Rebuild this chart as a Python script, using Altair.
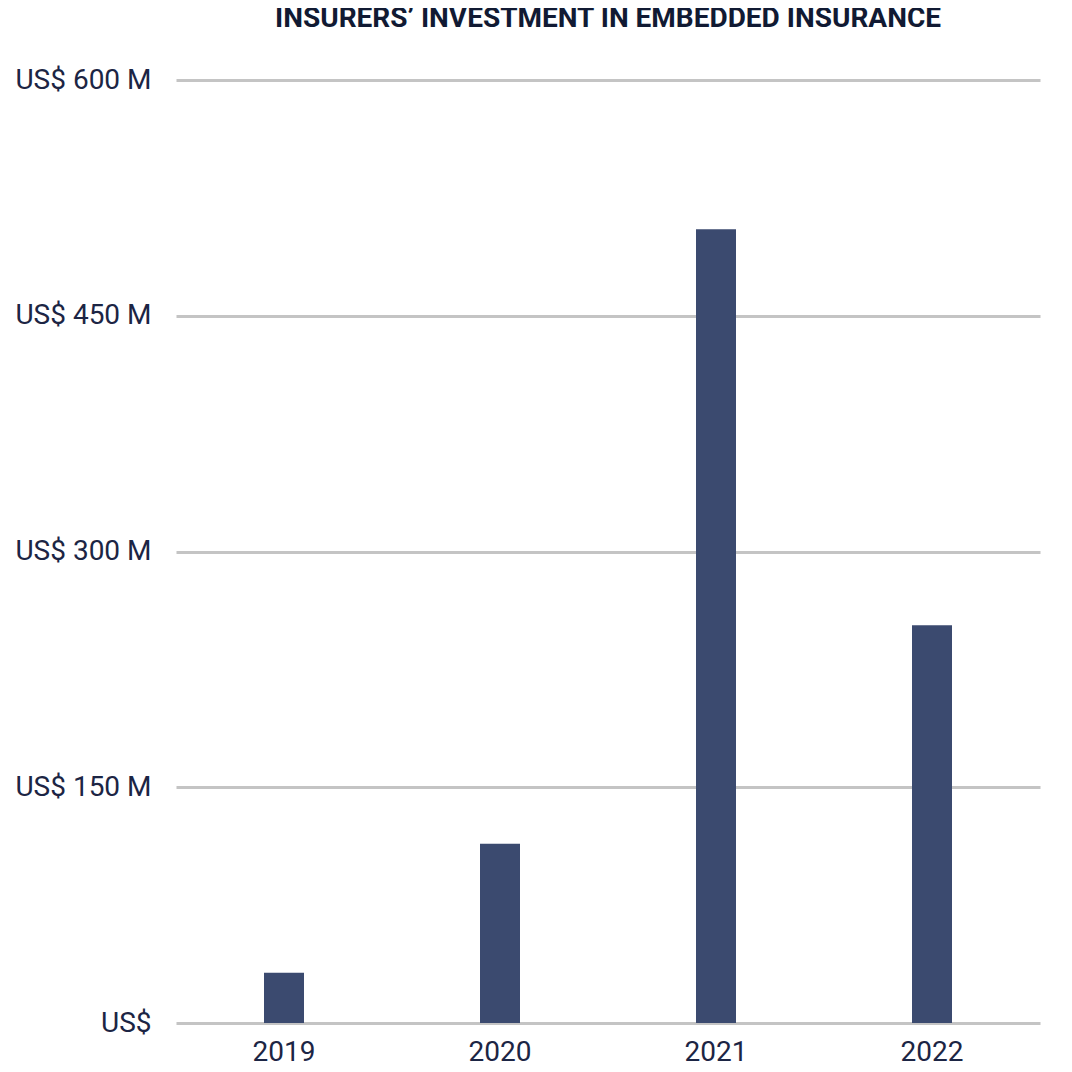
import altair as alt
import pandas as pd

years = ["2019", "2020", "2021", "2022"]
values = [32, 114, 505, 253]
tick_values = [0, 150, 300, 450, 600]

df = pd.DataFrame({"year": years, "value": values})

label_expr = "datum.value == 0 ? 'US$' : 'US$ ' + datum.value + ' M'"

chart = alt.Chart(df).mark_bar(size=40, color="#3b4a6f").encode(
    x=alt.X("year:N", sort=years, title=None,
            scale=alt.Scale(paddingInner=0, paddingOuter=0),
            axis=alt.Axis(labelAngle=0, domain=False, ticks=False, labelPadding=15,
                          labelFont="Roboto", labelFontSize=28, labelColor="#1c2544")),
    y=alt.Y("value:Q", title=None,
            scale=alt.Scale(domain=[0, 600], nice=False),
            axis=alt.Axis(values=tick_values, labelExpr=label_expr, domain=False, ticks=False,
                          labelPadding=25, labelFont="Roboto", labelFontSize=28,
                          labelColor="#1c2544", gridColor="#c4c4c4", gridWidth=3)),
).properties(
    width=864,
    height=943,
    title=alt.TitleParams("INSURERS’ INVESTMENT IN EMBEDDED INSURANCE", font="Roboto",
                          fontSize=28, fontWeight="bold", color="#111a33",
                          anchor="middle", offset=33),
    autosize=alt.AutoSizeParams(type="none"),
    padding={"left": 168, "top": 72, "right": 24, "bottom": 44},
).configure_view(stroke=None)

chart.save("out.html", embed_options={"renderer": "svg", "actions": False})
